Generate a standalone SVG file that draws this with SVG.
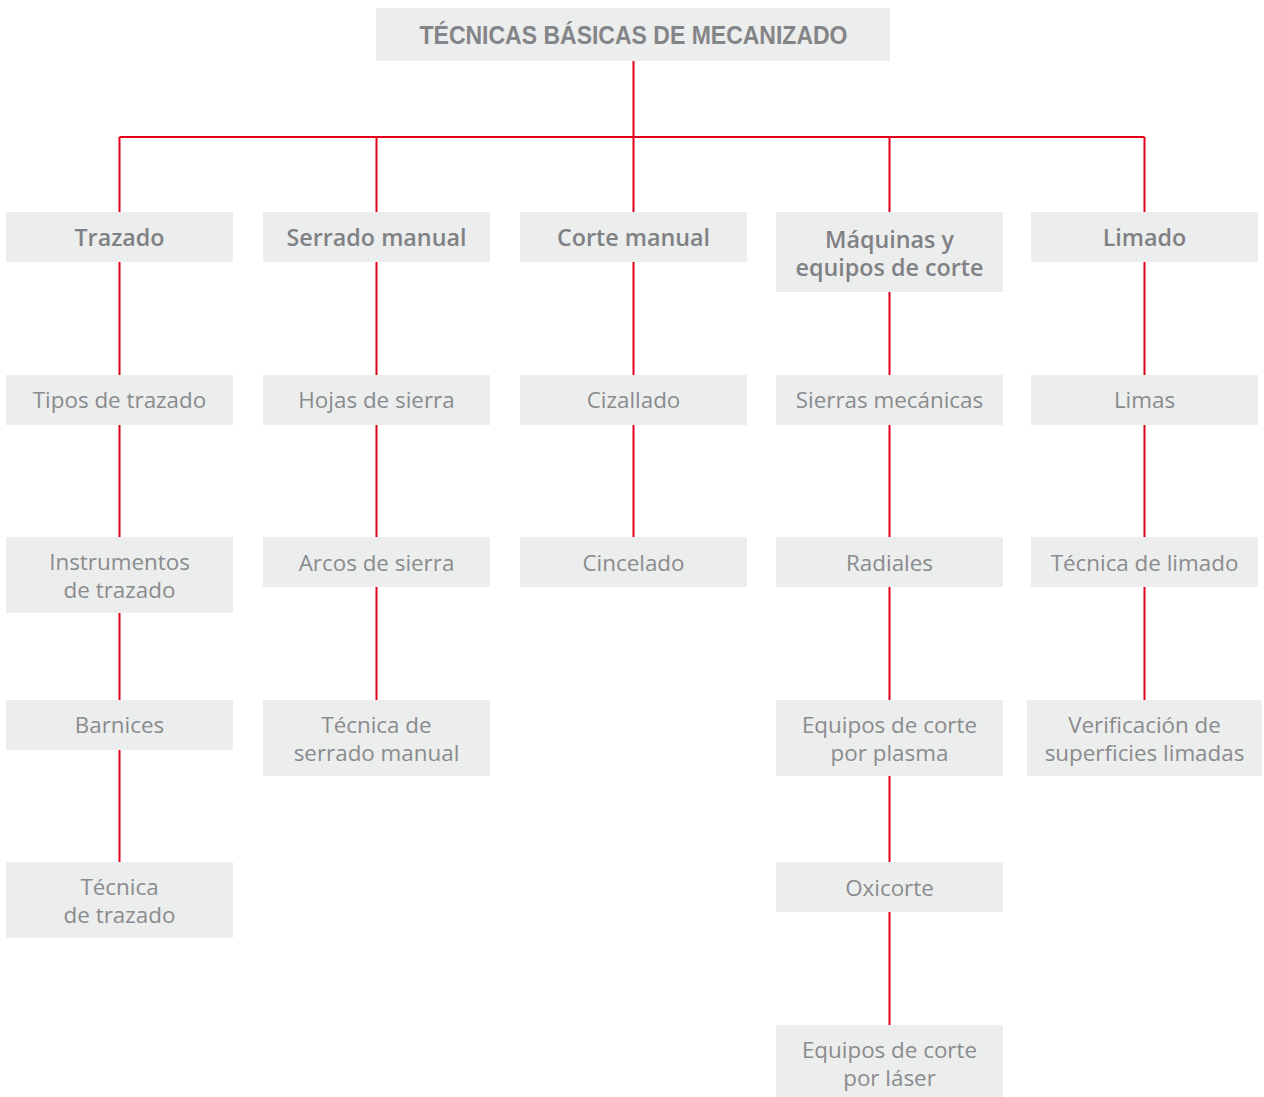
<svg xmlns="http://www.w3.org/2000/svg" width="1264" height="1097" viewBox="0 0 1264 1097">
<style>
.box{fill:#eceded}
.t{font-family:"Open Sans","DejaVu Sans",sans-serif;font-size:22.4px;fill:#8a8b8d;text-anchor:middle}
.h{font-family:"Open Sans","DejaVu Sans",sans-serif;font-size:23.3px;font-weight:600;fill:#808184;text-anchor:middle}
.title{font-family:"Liberation Sans",Arial,sans-serif;font-size:26px;font-weight:bold;fill:#848588;text-anchor:middle}
.c{stroke:#e2001a;stroke-width:2;fill:none}
</style>
<rect width="1264" height="1097" fill="#fff"/>
<g id="connectors" class="c">
<path d="M633.5 61V137M119.5 137H1144.5M119.5 137V212M376.5 137V212M633.5 137V212M889.5 137V212M1144.5 137V212"/>
<path d="M119.5 262V375M119.5 425V537M119.5 613V700M119.5 750V862"/>
<path d="M376.5 262V375M376.5 425V537M376.5 587V700"/>
<path d="M633.5 262V375M633.5 425V537"/>
<path d="M889.5 292V375M889.5 425V537M889.5 587V700M889.5 776V862M889.5 912V1025"/>
<path d="M1144.5 262V375M1144.5 425V537M1144.5 587V700"/>
</g>
<g id="title"><rect class="box" x="376" y="8" width="514" height="53"/><text class="title" x="633.5" y="44" textLength="428" lengthAdjust="spacingAndGlyphs">TÉCNICAS BÁSICAS DE MECANIZADO</text></g>
<g id="trazado"><rect class="box" x="6" y="212" width="227" height="50"/><text class="h" x="119.5" y="246">Trazado</text></g>
<g id="serrado"><rect class="box" x="263" y="212" width="227" height="50"/><text class="h" x="376.5" y="246">Serrado manual</text></g>
<g id="corte"><rect class="box" x="520" y="212" width="227" height="50"/><text class="h" x="633.5" y="246">Corte manual</text></g>
<g id="maquinas"><rect class="box" x="776" y="212" width="227" height="80"/><text class="h" x="889.5" y="248">Máquinas y</text><text class="h" x="889.5" y="276">equipos de corte</text></g>
<g id="limado"><rect class="box" x="1031" y="212" width="227" height="50"/><text class="h" x="1144.5" y="246">Limado</text></g>

<g id="tipos"><rect class="box" x="6" y="375" width="227" height="50"/><text class="t" x="119.5" y="408">Tipos de trazado</text></g>
<g id="instrumentos"><rect class="box" x="6" y="537" width="227" height="76"/><text class="t" x="119.5" y="570">Instrumentos</text><text class="t" x="119.5" y="598">de trazado</text></g>
<g id="barnices"><rect class="box" x="6" y="700" width="227" height="50"/><text class="t" x="119.5" y="733">Barnices</text></g>
<g id="tecnica-trazado"><rect class="box" x="6" y="862" width="227" height="76"/><text class="t" x="119.5" y="895">Técnica</text><text class="t" x="119.5" y="923">de trazado</text></g>

<g id="hojas"><rect class="box" x="263" y="375" width="227" height="50"/><text class="t" x="376.5" y="408">Hojas de sierra</text></g>
<g id="arcos"><rect class="box" x="263" y="537" width="227" height="50"/><text class="t" x="376.5" y="571">Arcos de sierra</text></g>
<g id="tecnica-serrado"><rect class="box" x="263" y="700" width="227" height="76"/><text class="t" x="376.5" y="733">Técnica de</text><text class="t" x="376.5" y="761">serrado manual</text></g>

<g id="cizallado"><rect class="box" x="520" y="375" width="227" height="50"/><text class="t" x="633.5" y="408">Cizallado</text></g>
<g id="cincelado"><rect class="box" x="520" y="537" width="227" height="50"/><text class="t" x="633.5" y="571">Cincelado</text></g>

<g id="sierras"><rect class="box" x="776" y="375" width="227" height="50"/><text class="t" x="889.5" y="408">Sierras mecánicas</text></g>
<g id="radiales"><rect class="box" x="776" y="537" width="227" height="50"/><text class="t" x="889.5" y="571">Radiales</text></g>
<g id="plasma"><rect class="box" x="776" y="700" width="227" height="76"/><text class="t" x="889.5" y="733">Equipos de corte</text><text class="t" x="889.5" y="761">por plasma</text></g>
<g id="oxicorte"><rect class="box" x="776" y="862" width="227" height="50"/><text class="t" x="889.5" y="896">Oxicorte</text></g>
<g id="laser"><rect class="box" x="776" y="1025" width="227" height="72"/><text class="t" x="889.5" y="1058">Equipos de corte</text><text class="t" x="889.5" y="1086">por láser</text></g>

<g id="limas"><rect class="box" x="1031" y="375" width="227" height="50"/><text class="t" x="1144.5" y="408">Limas</text></g>
<g id="tecnica-limado"><rect class="box" x="1031" y="537" width="227" height="50"/><text class="t" x="1144.5" y="571">Técnica de limado</text></g>
<g id="verificacion"><rect class="box" x="1027" y="700" width="235" height="76"/><text class="t" x="1144.5" y="733">Verificación de</text><text class="t" x="1144.5" y="761">superficies limadas</text></g>
</svg>
